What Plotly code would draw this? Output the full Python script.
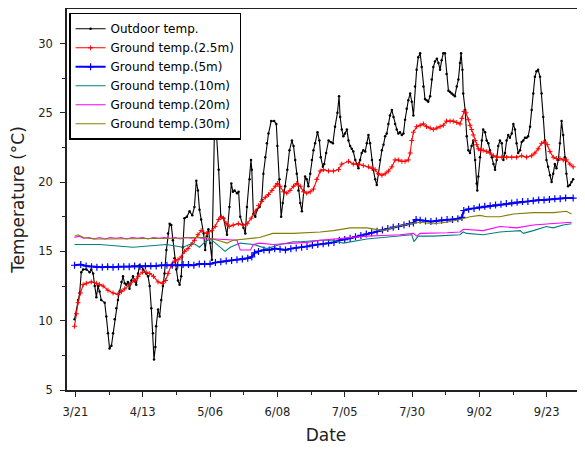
import plotly.graph_objects as go

# ---- tick labels (x axis is sample/day index; one labelled tick every 25 samples) ----
tick_pos = [0, 25, 50, 75, 100, 125, 150, 175]
tick_labels = ["3/21", "4/13", "5/06", "6/08", "7/05", "7/30", "9/02", "9/23"]

# ---- Outdoor temperature ----
out_x = [-0.3, 1.0, 1.6, 2.2, 2.9, 4.1, 5.3, 5.9, 6.6, 7.2, 7.8, 8.4, 9.0, 9.6, 10.9, 11.5,
         12.1, 12.7, 13.4, 14.0, 14.6, 15.2, 15.8, 16.4, 17.1, 17.7, 18.3, 18.9, 19.5, 20.1,
         20.8, 21.4, 22.0, 22.6, 23.3, 23.8, 24.5, 25.1, 26.3, 27.0, 27.6, 28.2, 28.8, 29.2,
         29.7, 30.0, 30.7, 31.3, 31.9, 32.5, 33.1, 33.8, 34.4, 35.0, 35.6, 36.2, 36.8, 37.5,
         38.1, 38.7, 39.3, 39.9, 40.5, 41.4, 42.4, 43.4, 44.2, 44.9, 45.5, 46.1, 46.7, 47.6,
         48.2, 48.8, 49.4, 50.1, 50.7, 51.6, 52.3, 53.2, 54.0, 55.0, 56.3, 57.2, 57.9, 58.5,
         59.1, 60.0, 60.6, 61.2, 62.4, 63.1, 63.7, 64.7, 65.2, 65.5, 66.1, 66.8, 67.4, 68.4,
         69.2, 69.8, 70.5, 71.1, 71.7, 72.7, 73.8, 74.6, 75.0, 75.8, 76.4, 77.0, 77.9, 78.7,
         79.5, 80.4, 81.0, 81.6, 82.2, 82.8, 83.5, 84.1, 84.7, 85.3, 85.9, 86.5, 87.2, 87.8,
         88.4, 89.0, 89.9, 90.6, 91.1, 91.9, 92.4, 93.1, 94.0, 94.8, 95.6, 96.4, 97.3, 97.9,
         98.3, 98.9, 99.5, 100.1, 100.8, 101.4, 102.0, 102.6, 103.2, 103.9, 104.5, 105.1,
         105.7, 106.3, 106.9, 107.6, 108.2, 108.8, 109.4, 110.1, 110.6, 111.3, 111.9, 112.5,
         113.1, 113.8, 114.4, 115.0, 115.6, 116.2, 116.8, 117.5, 118.1, 118.7, 119.3, 119.9,
         120.5, 121.2, 121.8, 122.4, 123.0, 123.6, 124.3, 124.9, 125.5, 126.1, 126.7, 127.3,
         128.0, 128.6, 129.2, 129.8, 130.4, 131.0, 131.7, 132.3, 132.9, 133.5, 134.2, 134.8,
         135.4, 136.0, 136.6, 137.2, 137.8, 138.5, 139.1, 139.7, 140.3, 140.9, 141.6, 142.2,
         142.8, 143.2, 143.7, 144.0, 144.7, 145.3, 145.9, 146.5, 147.1, 147.7, 148.4, 149.0,
         149.2, 149.6, 150.2, 150.9, 151.4, 152.1, 152.7, 153.3, 153.9, 154.6, 155.2, 155.8,
         156.4, 157.0, 157.6, 158.3, 158.9, 159.5, 160.1, 160.7, 161.3, 162.0, 162.6, 163.2,
         163.8, 164.4, 165.1, 165.7, 166.3, 166.9, 167.5, 168.1, 168.8, 169.4, 170.0, 170.6,
         171.2, 171.8, 172.5, 173.1, 173.7, 174.3, 174.9, 175.5, 176.2, 176.8, 177.4, 178.0,
         178.6, 179.3, 179.9, 180.5, 181.1, 181.7, 182.3, 182.9, 183.6, 184.2, 184.8]
out_y = [10.1, 11.5, 12.0, 13.5, 13.7, 13.7, 13.5, 13.7, 13.4, 12.5, 11.7, 12.5, 12.1, 11.5, 11.3, 10.3,
         9.1, 8.0, 8.2, 9.1, 10.1, 10.9, 11.5, 12.1, 12.8, 13.2, 12.7, 12.6, 12.8, 12.3,
         12.9, 13.2, 12.9, 12.6, 13.4, 14.0, 13.9, 13.7, 13.4, 13.2, 12.5, 10.9, 9.1, 7.2,
         8.1, 9.6, 10.8, 10.3, 11.5, 12.5, 13.4, 15.1, 16.3, 17.0, 16.9, 15.8, 14.5, 13.7,
         12.9, 12.6, 13.2, 15.3, 17.4, 17.5, 17.9, 17.6, 18.2, 20.1, 19.4, 18.0, 17.3, 16.3,
         15.1, 16.1, 16.6, 15.6, 14.4, 23.4, 23.8, 20.9, 17.5, 17.4, 16.2, 18.2, 19.9, 19.3,
         19.4, 19.2, 19.3, 17.5, 16.7, 16.3, 18.2, 20.2, 21.6, 20.9, 17.7, 17.5, 18.0, 18.2,
         18.7, 20.6, 21.8, 22.8, 23.5, 24.4, 24.4, 24.2, 22.6, 20.2, 17.5, 18.5, 19.7, 20.9,
         22.3, 23.0, 22.6, 21.6, 20.6, 19.4, 18.5, 17.9, 19.4, 20.4, 20.2, 19.7, 20.6, 21.6,
         22.3, 22.8, 23.6, 23.0, 21.8, 21.1, 21.3, 22.1, 23.0, 22.9, 22.8, 24.0, 25.0, 26.2,
         24.7, 23.8, 23.3, 23.5, 23.8, 23.0, 22.6, 22.4, 22.2, 21.6, 21.3, 21.0,
         21.6, 22.1, 22.3, 22.2, 22.8, 23.4, 22.8, 21.6, 20.9, 20.2, 19.8, 20.6,
         21.6, 22.3, 22.7, 23.3, 23.5, 24.2, 24.8, 25.2, 24.7, 24.2, 23.8, 23.5,
         23.6, 23.4, 23.5, 24.5, 25.3, 25.9, 26.4, 25.8, 24.8, 26.9, 28.1, 29.0,
         29.3, 28.3, 26.9, 26.0, 25.9, 25.8, 26.2, 27.4, 28.3, 28.7, 28.9, 28.6,
         28.1, 28.8, 29.3, 29.3, 27.8, 26.6, 26.5, 26.4, 26.3, 26.2, 26.9, 27.4,
         28.6, 29.3, 28.1, 26.4, 25.2, 23.3, 22.3, 22.1, 22.6, 23.0, 21.6, 19.9,
         19.4, 20.4, 21.8, 23.0, 23.8, 23.6, 23.0, 22.8, 22.3, 21.8, 21.3, 20.9,
         21.6, 22.6, 23.0, 22.8, 21.6, 22.1, 23.0, 23.4, 23.2, 23.5, 24.2, 23.8,
         22.8, 22.1, 22.3, 22.9, 23.0, 23.2, 23.2, 23.3, 24.0, 25.2, 26.4, 27.6,
         28.0, 28.1, 27.6, 26.4, 24.7, 23.0, 21.6, 21.1, 20.5, 20.0, 20.6, 21.3,
         21.0, 21.6, 22.8, 24.4, 23.4, 21.8, 20.6, 19.7, 19.8, 20.0, 20.2]

# ---- Ground temperature 2.5 m ----
g25_x = [-0.3, 0.4, 1.0, 1.9, 2.9, 4.1, 5.9, 7.8, 9.0, 10.3, 12.1, 14.0, 15.8, 17.1, 18.3, 20.1,
         22.0, 23.3, 24.9, 26.3, 27.6, 29.0, 30.7, 32.3, 33.5, 34.4, 35.6, 36.8, 38.1, 39.3,
         40.5, 41.8, 43.0, 44.2, 45.5, 46.7, 48.8, 50.7, 51.9, 53.2, 54.2, 55.0, 56.0, 57.1,
         58.6, 60.5, 62.3, 63.8, 65.3, 66.8, 68.0, 69.2, 70.5, 71.7, 73.0, 74.2, 75.0, 76.0,
         77.3, 78.5, 79.7, 81.0, 82.2, 83.5, 84.7, 85.9, 87.2, 88.4, 89.6, 90.9, 92.1, 94.0,
         95.8, 97.7, 98.9, 101.4, 103.2, 105.1, 106.9, 108.8, 110.1, 111.3, 112.5, 113.8,
         115.0, 116.2, 117.5, 118.7, 119.9, 121.2, 122.4, 123.6, 124.3, 124.9, 125.5, 126.7,
         128.0, 129.2, 130.4, 131.7, 132.9, 134.2, 135.4, 136.6, 137.8, 139.1, 140.3, 141.6,
         142.8, 143.5, 144.3, 145.0, 145.9, 146.5, 147.1, 147.7, 148.4, 149.0, 149.6, 150.5,
         151.4, 152.7, 153.9, 155.2, 156.4, 158.3, 160.1, 162.0, 163.8, 165.7, 167.5, 169.4,
         170.6, 171.8, 173.1, 174.3, 175.2, 176.2, 177.4, 178.6, 179.9, 181.1, 182.3, 183.6, 184.8]
g25_y = [9.6, 10.5, 11.3, 12.0, 12.6, 12.7, 12.8, 12.7, 12.6, 12.5, 12.2, 12.0, 11.9, 12.1, 12.3, 12.6,
         12.9, 13.2, 13.5, 13.5, 13.4, 13.2, 12.8, 12.7, 12.9, 13.4, 14.0, 14.3, 14.4, 14.6,
         15.0, 15.2, 15.5, 15.8, 16.2, 16.5, 16.3, 16.5, 16.8, 17.3, 17.5, 17.4, 17.0, 16.8,
         16.9, 17.0, 16.9, 17.0, 17.4, 17.9, 18.3, 18.6, 18.9, 19.1, 19.4, 19.7, 19.9, 19.7,
         19.3, 19.2, 19.4, 19.7, 19.9, 19.7, 19.3, 19.2, 19.3, 19.5, 20.2, 20.8, 20.9, 20.8,
         20.8, 20.9, 21.3, 21.5, 21.3, 21.3, 21.2, 21.1, 21.0, 20.9, 20.6, 20.5,
         20.6, 20.8, 21.1, 21.6, 21.6, 21.5, 21.5, 21.6, 22.1, 23.0, 23.6, 24.0,
         24.1, 24.2, 24.0, 23.9, 23.8, 23.9, 24.0, 24.1, 24.4, 24.4, 24.4, 24.3,
         24.2, 24.6, 25.1, 25.0, 24.5, 24.1, 23.8, 23.4, 23.0, 22.7, 22.4, 22.3,
         22.3, 22.2, 22.1, 21.9, 21.8, 21.8, 21.8, 21.8, 21.8, 21.9, 21.8, 21.9,
         22.1, 22.4, 22.8, 22.9, 22.7, 22.2, 21.8, 21.7, 21.7, 21.6, 21.6, 21.3, 21.1]

# ---- Ground temperature 5 m ----
g5_x = [-0.3, 2, 4, 6, 8, 10, 12, 14, 16, 18, 20, 22, 24, 26, 28, 30, 32, 34, 36, 38, 40, 42, 44,
        46, 48, 50, 52, 54, 56, 58, 60, 62, 64, 65.5, 66.5, 68, 70, 72, 74, 76, 78, 80, 82, 84,
        86, 88, 90, 92, 94, 96, 98, 100, 102, 104, 106, 108, 110, 112, 114, 116, 118, 120, 122,
        124, 125.5, 126.5, 128, 130, 132, 134, 136, 138, 140, 142, 143.5, 144.2, 146, 148, 150,
        152, 154, 156, 158, 160, 162, 164, 166, 168, 170, 172, 174, 176, 178, 180, 182, 184.8]
g5_y = [14.0, 14.05, 13.95, 13.9, 13.85, 13.85, 13.9, 13.85, 13.9, 13.9, 13.9, 13.95, 13.9, 13.95,
        13.95, 13.95, 14.0, 14.0, 14.0, 14.0, 14.05, 14.05, 14.0, 14.1, 14.1, 14.1, 14.2, 14.25,
        14.3, 14.35, 14.4, 14.45, 14.5, 14.6, 14.9, 15.0, 15.1, 15.1, 15.2, 15.15, 15.1, 15.2,
        15.25, 15.3, 15.35, 15.45, 15.5, 15.55, 15.6, 15.65, 15.8, 15.85, 15.95, 16.05, 16.15,
        16.25, 16.35, 16.45, 16.55, 16.65, 16.75, 16.8, 16.9, 17.0, 17.05, 17.3, 17.25, 17.2,
        17.15, 17.2, 17.25, 17.3, 17.3, 17.35, 17.45, 17.95, 18.05, 18.1, 18.2, 18.25, 18.3,
        18.35, 18.4, 18.45, 18.5, 18.55, 18.6, 18.6, 18.65, 18.7, 18.7, 18.75, 18.8, 18.8,
        18.85, 18.85]

# ---- Ground temperature 10 m ----
g10_x = [-0.3, 9.0, 21.4, 33.8, 39.9, 43.7, 46.1, 48.2, 50.1, 51.9, 53.8, 55.6, 57.5, 61.2,
         66.1, 71.1, 76.0, 81.0, 83.5, 90.9, 95.8, 99.5, 108.2, 118.1, 124.9, 125.7, 127.3,
         132.9, 142.8, 144.0, 145.3, 151.4, 157.6, 165.1, 166.3, 170.0, 174.9, 177.4, 181.1, 184.2]
g10_y = [15.5, 15.5, 15.3, 15.5, 15.3, 15.6, 15.3, 15.7, 15.9, 15.6, 15.3, 15.0, 15.3, 15.6,
         15.5, 15.2, 15.5, 15.7, 15.7, 15.8, 15.8, 15.6, 15.9, 16.1, 16.2, 15.7, 16.1,
         16.1, 16.2, 16.4, 16.3, 16.2, 16.4, 16.5, 16.3, 16.5, 16.8, 16.7, 16.9, 17.0]

# ---- Ground temperature 20 m ----
g20_x = [-0.3, 1.5, 3, 5, 7, 9, 11, 13, 15, 17, 19, 21, 23, 25, 27, 29, 31, 33, 35, 37, 39, 41,
         43, 45, 47, 49, 52, 56, 60, 61.2, 65, 66.1, 68.4, 73.3, 81, 86, 90.9, 95.8, 102, 108.2,
         114, 120.5, 125.5, 126.7, 128, 132.9, 138, 142.8, 144, 151.4, 157.6, 163.8, 170, 176.2,
         180, 184.2]
g20_y = [16.0, 16.1, 15.95, 16.0, 15.9, 16.0, 15.9, 16.0, 15.95, 16.0, 15.9, 16.0, 15.95, 16.0,
         15.9, 16.0, 15.95, 16.0, 15.95, 16.0, 15.9, 16.0, 15.95, 16.0, 15.95, 15.9, 15.9, 15.85,
         15.8, 15.1, 15.1, 15.5, 15.6, 15.5, 15.6, 15.65, 15.8, 15.9, 16.0, 16.1,
         16.15, 16.2, 16.3, 16.1, 16.3, 16.3, 16.35, 16.4, 16.6, 16.5, 16.8, 16.7, 16.9, 17.0,
         17.05, 17.1]

# ---- Ground temperature 30 m ----
g30_x = [-0.3, 1, 3, 6.9, 12, 19, 25, 31.3, 37, 43.7, 48.8, 52.8, 56.3, 58.6, 63, 68.4, 73.3,
         81, 90.9, 95.8, 102, 108.2, 114.4, 119.3, 124.3, 128, 132.9, 137.8, 142.8, 146.5, 150.2,
         152.7, 157.6, 162.6, 170, 177.4, 182.3, 184.2]
g30_y = [16.1, 16.2, 16.0, 15.9, 15.9, 15.9, 15.9, 15.9, 15.95, 16.0, 16.0, 15.8, 15.6, 15.8,
         15.9, 16.0, 16.3, 16.3, 16.4, 16.5, 16.7, 16.7, 16.5, 16.8, 17.0, 17.1, 17.0, 17.1,
         17.3, 17.5, 17.6, 17.5, 17.5, 17.7, 17.8, 17.8, 17.9, 17.7]

names = ["Outdoor temp.", "Ground temp.(2.5m)", "Ground temp.(5m)",
         "Ground temp.(10m)", "Ground temp.(20m)", "Ground temp.(30m)"]

fig = go.Figure()
fig.add_trace(go.Scatter(x=out_x, y=out_y, name=names[0], mode="lines+markers",
                         line=dict(color="black", width=1.1),
                         marker=dict(symbol="circle", size=2.5, color="black")))
fig.add_trace(go.Scatter(x=g25_x, y=g25_y, name=names[1], mode="lines+markers",
                         line=dict(color="#ff0000", width=1.1),
                         marker=dict(symbol="cross-thin", size=3.5, line=dict(color="#ff0000", width=1))))
fig.add_trace(go.Scatter(x=g5_x, y=g5_y, name=names[2], mode="lines+markers",
                         line=dict(color="#0000ff", width=2),
                         marker=dict(symbol="cross-thin", size=5, line=dict(color="#0000ff", width=1.2))))
fig.add_trace(go.Scatter(x=g10_x, y=g10_y, name=names[3], mode="lines",
                         line=dict(color="#008080", width=1.1)))
fig.add_trace(go.Scatter(x=g20_x, y=g20_y, name=names[4], mode="lines",
                         line=dict(color="#ff00ff", width=1.1)))
fig.add_trace(go.Scatter(x=g30_x, y=g30_y, name=names[5], mode="lines",
                         line=dict(color="#808000", width=1.1)))

axis_col = "#222222"
tick_font = dict(family="DejaVu Sans", size=11.5, color="#222222")

# the page body adds an 8 px margin, so the figure is sized to fill the rest of the window
fig.update_layout(
    width=577, height=441,
    margin=dict(l=58.5, r=0, t=1, b=59, autoexpand=False),
    paper_bgcolor="white", plot_bgcolor="white",
    showlegend=True,
    legend=dict(x=0.004, y=0.99, xanchor="left", yanchor="top",
                bgcolor="white", bordercolor="black", borderwidth=1.5,
                font=dict(family="DejaVu Sans", size=12, color="black"),
                itemwidth=30, tracegroupgap=0),
    xaxis=dict(range=[-3.1, 189.2], showgrid=False, zeroline=False, automargin=False,
               showline=True, linecolor=axis_col, linewidth=1.5, mirror=True,
               ticks="outside", ticklen=5, tickwidth=1.2, tickcolor=axis_col,
               tickmode="array", tickvals=tick_pos, ticktext=tick_labels,
               tickfont=tick_font, ticklabelstandoff=5,
               minor=dict(ticks="outside", ticklen=3, tickwidth=1, tickcolor=axis_col,
                          tickmode="linear", tick0=12.5, dtick=25),
               title=dict(text="Date", font=dict(family="DejaVu Sans", size=17, color="#222222"),
                          standoff=12)),
    yaxis=dict(range=[5, 32.49], showgrid=False, zeroline=False, automargin=False,
               showline=True, linecolor=axis_col, linewidth=1.5,
               ticks="outside", ticklen=5, tickwidth=1.2, tickcolor=axis_col,
               tickmode="linear", tick0=5, dtick=5, tickfont=tick_font, ticklabelstandoff=5,
               minor=dict(ticks="outside", ticklen=3, tickwidth=1, tickcolor=axis_col,
                          tickmode="linear", tick0=7.5, dtick=5),
               title=dict(text="Temperature (°C)", font=dict(family="DejaVu Sans", size=17, color="#222222"),
                          standoff=10)),
)

fig.write_html("out.html")
